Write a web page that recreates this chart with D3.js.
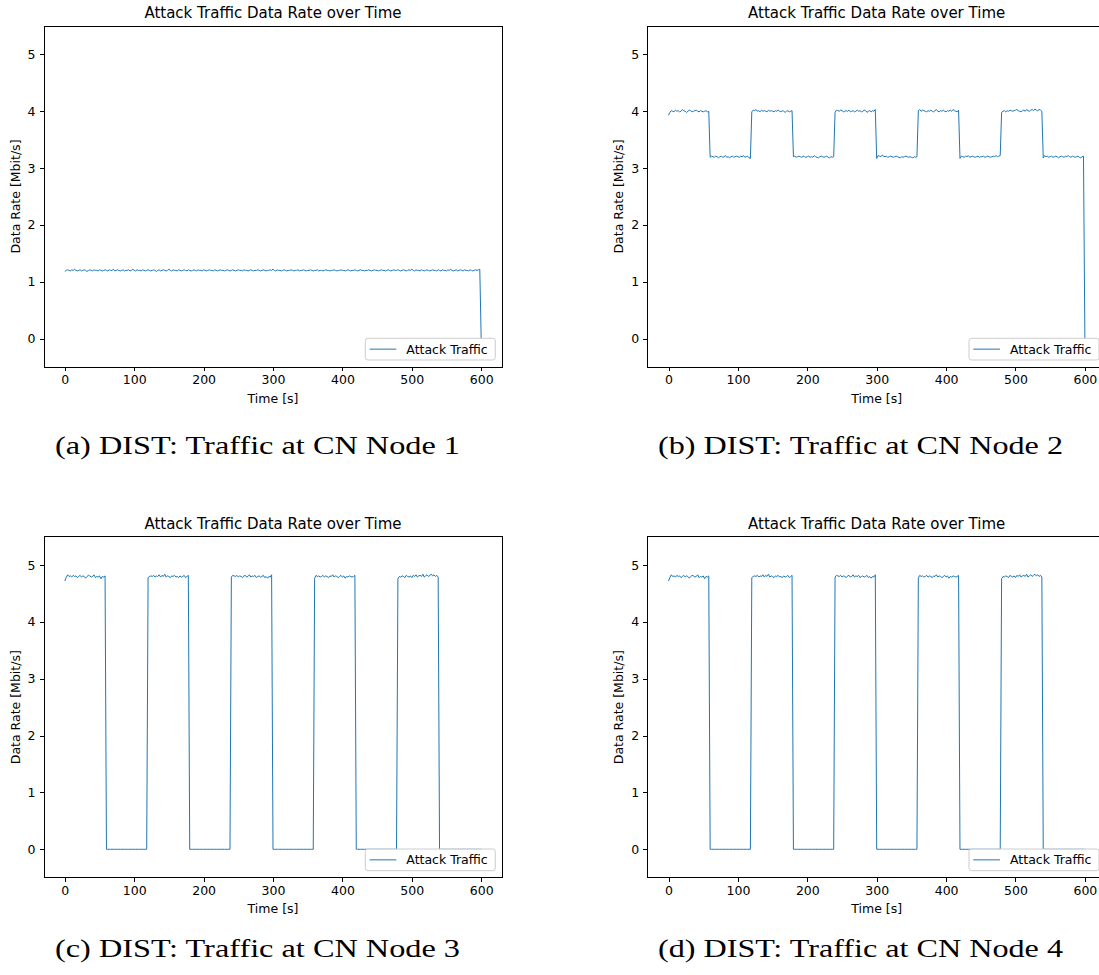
<!DOCTYPE html>
<html>
<head>
<meta charset="utf-8">
<script src="https://cdn.jsdelivr.net/npm/d3@7"></script>
<style>
body { margin: 0; background: #fff; overflow: hidden; }
</style>
</head>
<body>
<script>
// time grid, one sample every 2 s
var times = d3.range(0, 601, 2);

var xTicks = [0, 100, 200, 300, 400, 500, 600];
var yTicks = [0, 1, 2, 3, 4, 5];

var titles = "Attack Traffic Data Rate over Time";
var legendLabel = "Attack Traffic";
var captions = [
  "(a) DIST: Traffic at CN Node 1",
  "(b) DIST: Traffic at CN Node 2",
  "(c) DIST: Traffic at CN Node 3",
  "(d) DIST: Traffic at CN Node 4"
];

// Mbit/s, one row per 60 s
var rateNode1 = [
  1.18,1.20,1.21,1.20,1.19, 1.21,1.20,1.22,1.20,1.19, 1.20,1.21,1.19,1.20,1.21, 1.20,1.18,1.20,1.21,1.20, 1.19,1.21,1.20,1.20,1.19, 1.21,1.20,1.19,1.20,1.21,
  1.20,1.19,1.21,1.20,1.20, 1.22,1.19,1.20,1.21,1.20, 1.19,1.20,1.21,1.19,1.20, 1.20,1.21,1.19,1.20,1.22, 1.20,1.19,1.21,1.20,1.20, 1.19,1.21,1.20,1.19,1.20,
  1.21,1.20,1.19,1.20,1.21, 1.20,1.18,1.20,1.21,1.19, 1.20,1.21,1.20,1.19,1.20, 1.22,1.20,1.19,1.21,1.20, 1.20,1.19,1.21,1.20,1.19, 1.20,1.21,1.20,1.19,1.21,
  1.20,1.19,1.20,1.21,1.20, 1.19,1.21,1.20,1.20,1.19, 1.21,1.20,1.19,1.20,1.21, 1.20,1.20,1.19,1.21,1.20, 1.19,1.20,1.21,1.20,1.20, 1.19,1.20,1.21,1.20,1.19,
  1.20,1.21,1.20,1.19,1.20, 1.21,1.20,1.20,1.19,1.21, 1.20,1.20,1.19,1.20,1.21, 1.20,1.19,1.20,1.20,1.21, 1.20,1.19,1.20,1.21,1.20, 1.19,1.20,1.20,1.21,1.20,
  1.22,1.20,1.19,1.21,1.20, 1.20,1.19,1.20,1.21,1.20, 1.19,1.20,1.20,1.21,1.20, 1.19,1.20,1.20,1.21,1.19, 1.20,1.20,1.21,1.20,1.19, 1.20,1.20,1.21,1.20,1.19,
  1.20,1.20,1.21,1.19,1.20, 1.20,1.19,1.20,1.21,1.20, 1.20,1.19,1.20,1.20,1.21, 1.20,1.19,1.20,1.20,1.21, 1.20,1.20,1.19,1.20,1.21, 1.20,1.19,1.20,1.20,1.21,
  1.20,1.19,1.20,1.21,1.20, 1.20,1.19,1.20,1.20,1.21, 1.20,1.19,1.20,1.21,1.20, 1.20,1.19,1.20,1.21,1.20, 1.20,1.19,1.20,1.21,1.20, 1.19,1.20,1.21,1.20,1.20,
  1.21,1.20,1.19,1.20,1.21, 1.20,1.19,1.20,1.21,1.20, 1.22,1.20,1.19,1.21,1.20, 1.20,1.19,1.21,1.20,1.19, 1.20,1.21,1.20,1.19,1.20, 1.21,1.20,1.20,1.19,1.21,
  1.20,1.19,1.21,1.20,1.20, 1.19,1.21,1.20,1.22,1.20, 1.19,1.20,1.21,1.19,1.20, 1.21,1.20,1.19,1.21,1.20, 1.20,1.19,1.21,1.20,1.19, 1.20,1.21,1.20,1.21,1.22,
  0
];

var rateNode2 = [
  3.93,3.98,4.01,4.00,3.99, 4.02,4.00,4.01,3.99,4.00, 4.03,4.01,4.00,3.98,4.00, 4.02,4.01,3.99,4.00,4.01, 4.02,4.00,3.99,4.01,4.00, 3.99,4.00,4.01,3.99,4.00,
  3.19,3.21,3.20,3.19,3.21, 3.20,3.18,3.20,3.21,3.19, 3.20,3.22,3.19,3.20,3.18, 3.20,3.21,3.19,3.20,3.21, 3.20,3.19,3.21,3.20,3.22, 3.19,3.20,3.21,3.18,3.17,
  3.99,4.02,4.01,4.03,4.00, 4.01,3.99,4.02,4.00,4.01, 4.00,3.99,4.02,4.00,4.01, 4.00,3.99,4.01,4.00,4.02, 4.00,3.99,4.01,4.00,3.98, 4.00,4.01,3.99,4.00,4.01,
  3.20,3.21,3.19,3.20,3.21, 3.20,3.19,3.21,3.20,3.19, 3.20,3.21,3.19,3.20,3.19, 3.22,3.20,3.19,3.18,3.20, 3.21,3.20,3.19,3.20,3.21, 3.19,3.18,3.20,3.19,3.20,
  3.98,4.02,4.01,4.00,4.02, 4.01,3.99,4.00,4.01,4.00, 4.02,3.99,4.00,4.01,3.99, 4.00,4.02,4.00,4.01,3.99, 4.00,4.02,4.01,3.98,4.00, 4.01,3.99,4.01,4.00,4.03,
  3.17,3.22,3.21,3.20,3.23, 3.21,3.20,3.21,3.19,3.20, 3.21,3.20,3.19,3.20,3.21, 3.20,3.19,3.18,3.20,3.19, 3.20,3.21,3.20,3.19,3.20, 3.19,3.18,3.20,3.19,3.20,
  4.01,4.03,4.00,4.02,4.01, 4.00,3.99,4.01,4.00,4.02, 4.00,3.99,4.01,4.03,4.00, 3.99,4.01,4.00,4.02,4.00, 3.99,4.01,4.00,4.02,4.00, 4.03,4.01,4.00,3.99,4.02,
  3.17,3.21,3.20,3.19,3.21, 3.20,3.22,3.19,3.20,3.21, 3.20,3.19,3.20,3.21,3.19, 3.20,3.20,3.21,3.19,3.20, 3.21,3.20,3.19,3.20,3.21, 3.20,3.22,3.20,3.21,3.22,
  3.98,4.00,4.01,3.99,4.01, 4.00,4.02,4.01,4.00,4.01, 4.02,4.03,4.01,4.00,3.99, 4.01,4.02,4.00,4.03,4.01, 4.00,4.02,4.03,4.01,4.04, 4.02,4.01,4.03,4.02,4.00,
  3.18,3.22,3.20,3.21,3.19, 3.20,3.21,3.19,3.20,3.21, 3.20,3.18,3.20,3.21,3.20, 3.19,3.21,3.20,3.22,3.20, 3.19,3.21,3.20,3.19,3.20, 3.21,3.19,3.18,3.20,3.21,
  0
];

var rateNode3 = [
  4.72,4.78,4.83,4.80,4.81, 4.79,4.82,4.80,4.81,4.78, 4.80,4.82,4.79,4.81,4.80, 4.77,4.80,4.82,4.81,4.79, 4.80,4.83,4.78,4.80,4.79, 4.81,4.76,4.80,4.79,4.81,
  0,0,0,0,0, 0,0,0,0,0, 0,0,0,0,0, 0,0,0,0,0, 0,0,0,0,0, 0,0,0,0,0,
  4.78,4.80,4.81,4.80,4.82, 4.79,4.81,4.80,4.83,4.79, 4.82,4.80,4.84,4.79,4.81, 4.80,4.78,4.81,4.80,4.82, 4.79,4.80,4.78,4.81,4.79, 4.80,4.82,4.78,4.80,4.82,
  0,0,0,0,0, 0,0,0,0,0, 0,0,0,0,0, 0,0,0,0,0, 0,0,0,0,0, 0,0,0,0,0,
  4.79,4.82,4.81,4.80,4.82, 4.79,4.81,4.80,4.78,4.81, 4.82,4.79,4.80,4.83,4.79, 4.81,4.80,4.82,4.78,4.80, 4.81,4.79,4.80,4.82,4.78, 4.80,4.77,4.80,4.79,4.83,
  0,0,0,0,0, 0,0,0,0,0, 0,0,0,0,0, 0,0,0,0,0, 0,0,0,0,0, 0,0,0,0,0,
  4.77,4.82,4.80,4.81,4.79, 4.80,4.82,4.79,4.81,4.80, 4.78,4.81,4.80,4.83,4.79, 4.81,4.80,4.78,4.80,4.82, 4.79,4.81,4.77,4.80,4.79, 4.81,4.80,4.79,4.80,4.82,
  0,0,0,0,0, 0,0,0,0,0, 0,0,0,0,0, 0,0,0,0,0, 0,0,0,0,0, 0,0,0,0,0,
  4.76,4.80,4.79,4.81,4.80, 4.78,4.82,4.80,4.79,4.81, 4.78,4.82,4.80,4.83,4.79, 4.81,4.82,4.80,4.84,4.79, 4.81,4.83,4.80,4.82,4.84, 4.81,4.83,4.80,4.82,4.79,
  0,0,0,0,0, 0,0,0,0,0, 0,0,0,0,0, 0,0,0,0,0, 0,0,0,0,0, 0,0,0,0,0,
  0
];

// node 4 shows the same trace as node 3
var rateNode4 = rateNode3.slice();

var width = 1099;
var height = 975;
var pw = 458;
var ph = 341;

var panels = [
  { x: 44,    y: 26,    data: rateNode1, cap: captions[0], capX: 55,  capY: 454 },
  { x: 647.7, y: 26,    data: rateNode2, cap: captions[1], capX: 658, capY: 454 },
  { x: 44,    y: 536.7, data: rateNode3, cap: captions[2], capX: 55,  capY: 957 },
  { x: 647.7, y: 536.7, data: rateNode4, cap: captions[3], capX: 658, capY: 957 }
];

var svg = d3.select("body")
  .append("svg")
  .attr("width", width)
  .attr("height", height);

var font = "DejaVu Sans, sans-serif";

panels.forEach(function(p) {
  var g = svg.append("g").attr("transform", "translate(" + p.x + "," + p.y + ")");

  var xscale = d3.scaleLinear().domain([-30, 630]).range([0, pw]);
  var yscale = d3.scaleLinear().domain([-0.5, 5.5]).range([ph, 0]);

  var pts = p.data.map(function(v, i) { return [times[i], v]; });

  var line = d3.line()
    .x(function(d) { return xscale(d[0]); })
    .y(function(d) { return yscale(d[1]); });

  g.append("path")
    .datum(pts)
    .attr("d", line)
    .attr("fill", "none")
    .attr("stroke", "#1f77b4")
    .attr("stroke-width", 1);

  var xAxis = g.append("g")
    .attr("transform", "translate(0," + ph + ")")
    .call(d3.axisBottom(xscale).tickValues(xTicks).tickSize(4.4).tickPadding(4.2).tickFormat(d3.format("d")));
  var yAxis = g.append("g")
    .call(d3.axisLeft(yscale).tickValues(yTicks).tickSize(4.4).tickPadding(4.2).tickFormat(d3.format("d")));

  [xAxis, yAxis].forEach(function(a) {
    a.select(".domain").remove();
    a.attr("font-family", font).attr("font-size", 12.5);
    a.selectAll("line").attr("stroke", "#000").attr("shape-rendering", "crispEdges");
    a.selectAll("text").attr("fill", "#000");
  });

  // frame
  g.append("rect")
    .attr("x", 0).attr("y", 0)
    .attr("width", pw).attr("height", ph)
    .attr("fill", "none")
    .attr("stroke", "#000")
    .attr("stroke-width", 1)
    .attr("shape-rendering", "crispEdges");

  g.append("text")
    .attr("x", pw / 2).attr("y", -7.7)
    .attr("text-anchor", "middle")
    .attr("font-family", font).attr("font-size", 15)
    .text(titles);

  g.append("text")
    .attr("x", pw / 2).attr("y", ph + 35.7)
    .attr("text-anchor", "middle")
    .attr("font-family", font).attr("font-size", 12.5)
    .text("Time [s]");

  g.append("text")
    .attr("transform", "translate(-24.5," + (ph / 2) + ") rotate(-90)")
    .attr("text-anchor", "middle")
    .attr("font-family", font).attr("font-size", 12.5)
    .text("Data Rate [Mbit/s]");

  // legend, lower right
  var lw = 130, lh = 21.7;
  var lx = pw - 6.7 - lw, ly = ph - 7 - lh;
  var lg = g.append("g").attr("transform", "translate(" + lx + "," + ly + ")");
  lg.append("rect")
    .attr("width", lw).attr("height", lh)
    .attr("rx", 2.5)
    .attr("fill", "#fff").attr("fill-opacity", 0.8)
    .attr("stroke", "#cccccc").attr("stroke-width", 1);
  lg.append("line")
    .attr("x1", 4.3).attr("x2", 31)
    .attr("y1", lh / 2).attr("y2", lh / 2)
    .attr("stroke", "#1f77b4").attr("stroke-width", 1);
  lg.append("text")
    .attr("x", 41).attr("y", lh / 2)
    .attr("dy", "0.36em")
    .attr("font-family", font).attr("font-size", 12.5)
    .text(legendLabel);

  // sub-figure caption
  svg.append("text")
    .attr("x", p.capX).attr("y", p.capY)
    .attr("font-family", "Liberation Serif, serif")
    .attr("font-size", 25.5)
    .attr("textLength", 405)
    .attr("lengthAdjust", "spacingAndGlyphs")
    .text(p.cap);
});
</script>
</body>
</html>
